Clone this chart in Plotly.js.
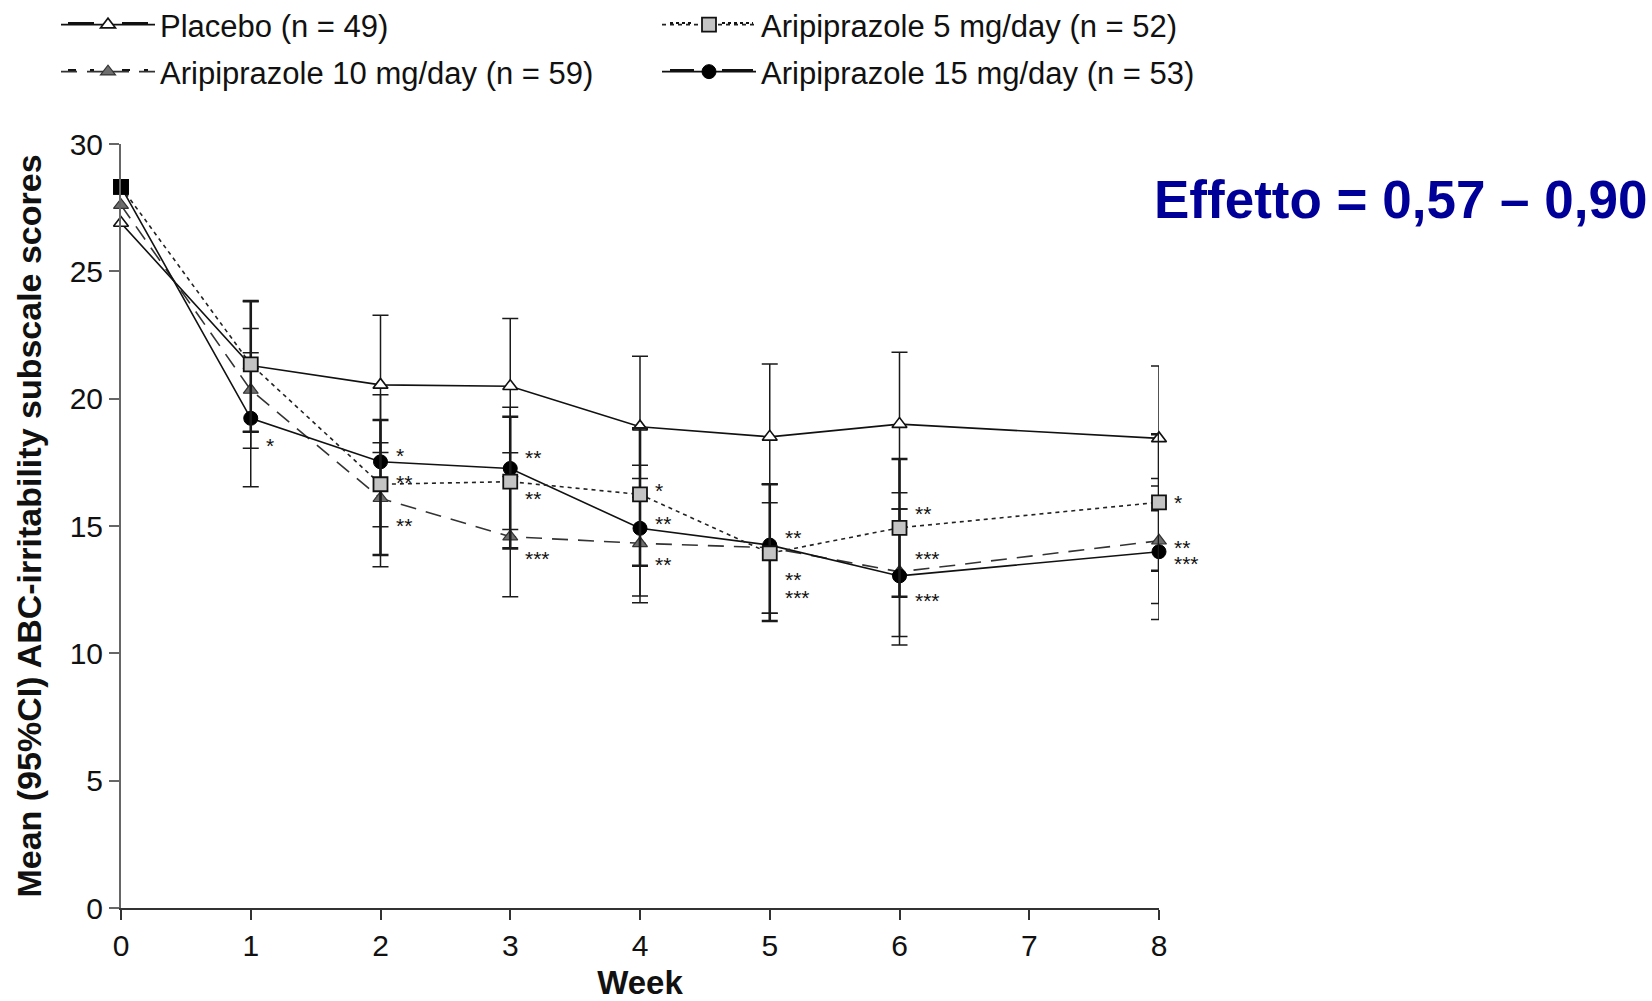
<!DOCTYPE html>
<html>
<head>
<meta charset="utf-8">
<script src="https://cdn.plot.ly/plotly-3.0.1.min.js"></script>
<style>
  html, body { margin: 0; padding: 0; background: #fff; }
  #chart { width: 1652px; height: 1001px; }
</style>
</head>
<body>
<div id="chart"></div>
<script>
// Weeks of assessment
const weeks = [0, 1, 2, 3, 4, 5, 6, 8];

// Mean ABC-irritability scores with 95% CI bounds
const placeboMean  = [26.90, 21.30, 20.54, 20.49, 18.90, 18.50, 19.00, 18.44];
const placeboUpper = [null, 23.83, 23.28, 23.15, 21.67, 21.36, 21.82, 21.28];
const placeboLower = [null, 18.70, 17.89, 17.88, 16.13, 15.91, 16.31, 15.60];

const aripi5Mean  = [28.32, 21.35, 16.64, 16.74, 16.24, 13.93, 14.93, 15.93];
const aripi5Upper = [null, 23.83, 19.16, 19.29, 18.84, 16.64, 17.63, 18.60];
const aripi5Lower = [null, 18.70, 13.86, 14.12, 13.44, 11.27, 12.22, 13.24];

const aripi10Mean  = [27.60, 20.34, 16.09, 14.58, 14.32, 14.15, 13.20, 14.42];
const aripi10Upper = [null, 22.76, 18.27, 16.94, 16.87, 16.64, 15.67, 16.87];
const aripi10Lower = [null, 18.05, 13.40, 12.22, 11.99, 11.57, 10.66, 11.96];

const aripi15Mean  = [28.32, 19.23, 17.52, 17.26, 14.91, 14.25, 13.04, 13.99];
const aripi15Upper = [null, 21.80, 20.15, 19.66, 17.39, 16.64, 15.67, 16.57];
const aripi15Lower = [null, 16.54, 14.97, 14.86, 12.25, 11.57, 10.33, 11.33];

// Significance versus placebo
const aripi5Stars  = ['', '', '**', '**', '*', '**', '**', '*'];
const aripi10Stars = ['', '', '**', '***', '**', '**', '***', '**'];
const aripi15Stars = ['', '*', '*', '**', '**', '***', '***', '***'];

// Series names
const seriesNames = [
  'Placebo (n = 49)',
  'Aripiprazole 5 mg/day (n = 52)',
  'Aripiprazole 10 mg/day (n = 59)',
  'Aripiprazole 15 mg/day (n = 53)'
];

const tickLabelsY = ['0', '5', '10', '15', '20', '25', '30'];
const tickValsY = [0, 5, 10, 15, 20, 25, 30];
const tickValsX = [0, 1, 2, 3, 4, 5, 6, 7, 8];

// Vertical pixel nudges of the star labels so they sit clear of the markers
const starNudge5  = [0, 0, 7, -12, 9, 21, 19, 5];
const starNudge10 = [0, 0, -22, -17, -16, -27, 18, -2];
const starNudge15 = [0, -22, 11, 16, 10, -47, -20, -7];

// Plot-area geometry in pixels, used to place legends and the side note
const M = { l: 121, r: 493, t: 144, b: 93 };
const W = 1652, H = 1001;
const PW = W - M.l - M.r, PH = H - M.t - M.b;
const px2x = (px) => (px - M.l) / PW;
const py2y = (py) => (H - M.b - py) / PH;

function errPlus(mean, upper) {
  return mean.map((m, i) => upper[i] == null ? NaN : upper[i] - m);
}
function errMinus(mean, lower) {
  return mean.map((m, i) => lower[i] == null ? NaN : m - lower[i]);
}

function errorBars(mean, upper, lower, thickness) {
  return {
    type: 'data', symmetric: false,
    array: errPlus(mean, upper), arrayminus: errMinus(mean, lower),
    color: '#1a1a1a', thickness: thickness, width: 8
  };
}

const tracePlacebo = {
  x: weeks, y: placeboMean, name: seriesNames[0], legend: 'legend',
  mode: 'lines+markers', cliponaxis: false,
  line: { color: '#111', width: 1.6 },
  marker: { symbol: 'triangle-up', size: 13, color: '#ffffff', line: { color: '#111', width: 1.6 } },
  error_y: errorBars(placeboMean, placeboUpper, placeboLower, 1.5)
};

const trace10 = {
  x: weeks, y: aripi10Mean, name: seriesNames[2], legend: 'legend3',
  mode: 'lines+markers', cliponaxis: false,
  line: { color: '#333', width: 1.6, dash: '16px,10px' },
  marker: { symbol: 'triangle-up', size: 13, color: '#6e6e6e', line: { color: '#333', width: 1.2 } },
  error_y: errorBars(aripi10Mean, aripi10Upper, aripi10Lower, 1.5)
};

const trace15 = {
  x: weeks, y: aripi15Mean, name: seriesNames[3], legend: 'legend4',
  mode: 'lines+markers', cliponaxis: false,
  line: { color: '#111', width: 1.6 },
  marker: { symbol: 'circle', size: 14, color: '#000', line: { color: '#000', width: 1 } },
  error_y: errorBars(aripi15Mean, aripi15Upper, aripi15Lower, 1.5)
};

const trace5 = {
  x: weeks, y: aripi5Mean, name: seriesNames[1], legend: 'legend2',
  mode: 'lines+markers', cliponaxis: false,
  line: { color: '#222', width: 1.6, dash: '4px,4px' },
  marker: { symbol: 'square', size: 14, color: '#c4c4c4', line: { color: '#111', width: 1.8 } },
  error_y: errorBars(aripi5Mean, aripi5Upper, aripi5Lower, 2.6)
};

// Baseline point where the groups coincide, shown as a solid square
const traceBaseline = {
  x: [weeks[0]], y: [aripi5Mean[0]], mode: 'markers', showlegend: false, cliponaxis: false,
  marker: { symbol: 'square', size: 14, color: '#000', line: { color: '#000', width: 1.8 } }
};

// Star annotations next to each significant mean
const annotations = [];
function addStars(stars, mean, nudge) {
  stars.forEach((s, i) => {
    if (!s) return;
    annotations.push({
      x: weeks[i], y: mean[i], xref: 'x', yref: 'y',
      text: s, showarrow: false, xanchor: 'left', yanchor: 'middle',
      xshift: 13, yshift: nudge[i] - 5,
      font: { family: 'Liberation Sans, Arial, sans-serif', size: 21, color: '#111' }
    });
  });
}
addStars(aripi5Stars, aripi5Mean, starNudge5);
addStars(aripi10Stars, aripi10Mean, starNudge10);
addStars(aripi15Stars, aripi15Mean, starNudge15);

annotations.push({
  xref: 'paper', yref: 'paper', x: px2x(1152), y: py2y(200),
  xanchor: 'left', yanchor: 'middle', showarrow: false,
  text: '<b>Effetto = 0,57 \u2013 0,90</b>',
  font: { family: 'Liberation Sans, Arial, sans-serif', size: 53, color: '#000099' }
});

const legendFont = { family: 'Liberation Sans, Arial, sans-serif', size: 31, color: '#111' };
function legendAt(xpx, ypx) {
  return {
    xref: 'paper', yref: 'paper', x: px2x(xpx), y: py2y(ypx),
    xanchor: 'left', yanchor: 'middle', bgcolor: 'rgba(0,0,0,0)',
    itemwidth: 94,
    font: legendFont, itemclick: false, itemdoubleclick: false
  };
}

// Longer key lines on either side of each legend symbol
function keyLine(x0, x1, ypx, dash) {
  return {
    type: 'line', xref: 'paper', yref: 'paper',
    x0: px2x(x0), x1: px2x(x1), y0: py2y(ypx), y1: py2y(ypx),
    line: { color: '#111', width: 2, dash: dash }
  };
}
const ROW1 = 23, ROW2 = 70;
const shapes = [
  keyLine(68, 94, ROW1, 'solid'), keyLine(122, 148, ROW1, 'solid'),
  keyLine(670, 694, ROW1, '3px,3px'), keyLine(722, 753, ROW1, '3px,3px'),
  keyLine(68, 94, ROW2, '8px,14px'), keyLine(122, 148, ROW2, '8px,14px'),
  keyLine(670, 694, ROW2, 'solid'), keyLine(722, 753, ROW2, 'solid')
];

const layout = {
  width: W, height: H,
  paper_bgcolor: '#ffffff', plot_bgcolor: '#ffffff',
  margin: { l: M.l, r: M.r, t: M.t, b: M.b, autoexpand: false },
  showlegend: true,
  legend: legendAt(56, 25),
  legend2: legendAt(657, 25),
  legend3: legendAt(56, 72),
  legend4: legendAt(657, 72),
  font: { family: 'Liberation Sans, Arial, sans-serif', color: '#111' },
  xaxis: {
    range: [0, 8], tickvals: tickValsX, ticks: 'outside', ticklen: 10, tickwidth: 2,
    tickcolor: '#333', showline: true, linecolor: '#333', linewidth: 2,
    showgrid: false, zeroline: false, automargin: false,
    tickfont: { size: 30, color: '#111' },
    title: { text: '<b>Week</b>', font: { size: 33, color: '#111' }, standoff: 14 }
  },
  yaxis: {
    range: [0, 30], tickvals: tickValsY, ticktext: tickLabelsY, ticks: 'outside', ticklen: 10, tickwidth: 2,
    tickcolor: '#666', showline: true, linecolor: '#666', linewidth: 2,
    showgrid: false, zeroline: false, automargin: false,
    tickfont: { size: 30, color: '#111' },
    title: { text: '<b>Mean (95%CI) ABC-irritability subscale scores</b>', font: { size: 34, color: '#111' }, standoff: 18 }
  },
  shapes: shapes,
  annotations: annotations
};

Plotly.newPlot('chart', [tracePlacebo, trace10, trace15, trace5, traceBaseline], layout, { displayModeBar: false, staticPlot: true });
</script>
</body>
</html>
